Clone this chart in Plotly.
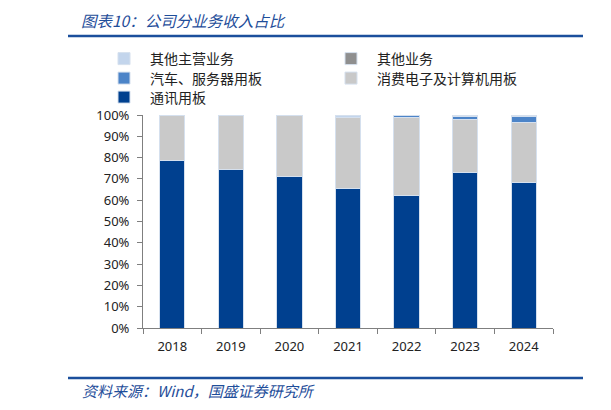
import plotly.graph_objects as go

years = ["2018", "2019", "2020", "2021", "2022", "2023", "2024"]
comm = [78.6, 74.4, 70.9, 65.6, 62.1, 72.9, 68.4]          # 通讯用板
consumer = [21.1, 25.4, 29.0, 33.2, 36.6, 24.8, 28.0]      # 消费电子及计算机用板
auto = [0.0, 0.0, 0.0, 0.2, 0.9, 1.8, 2.8]                 # 汽车、服务器用板
other = [0.0, 0.0, 0.0, 0.0, 0.0, 0.5, 0.8]                # 其他业务
other_main = [0.3, 0.2, 0.1, 1.0, 0.4, 0.0, 0.0]           # 其他主营业务
y_ticks = [0, 10, 20, 30, 40, 50, 60, 70, 80, 90, 100]

# page has an 8px body margin; figure sized to fit the 611x410 window
OFF = 8
W, H = 611 - OFF, 410 - OFF
L, R, T, B = 143, 553, 115, 328   # plot area in page pixels

def px_x(p):
    return (p - L) / (R - L)

def px_y(p):
    return (B - p) / (B - T)

FONT = "Noto Sans CJK SC, Noto Sans, sans-serif"
edge = dict(color="#D5E0EE", width=1)

# (name, values, color, legend id, legend box page x, row centre page y)
series = [
    ("通讯用板", comm, "#00408F", "legend5", 98, 97.5),
    ("消费电子及计算机用板", consumer, "#C9C9C9", "legend4", 325, 78.5),
    ("汽车、服务器用板", auto, "#4C84C8", "legend3", 98, 78.5),
    ("其他业务", other, "#8F8F8F", "legend2", 325, 59),
    ("其他主营业务", other_main, "#C3D5EC", "legend", 98, 59),
]

fig = go.Figure()
legends = {}
for name, vals, color, lg, lx, ly in series:
    fig.add_trace(go.Bar(
        x=years, y=vals, name=name, marker=dict(color=color, line=edge),
        legend=lg,
    ))
    legends[lg] = dict(
        x=px_x(lx), y=px_y(ly), xanchor="left", yanchor="middle",
        orientation="v", font=dict(family=FONT, size=14, color="#222222"),
        bgcolor="rgba(0,0,0,0)", itemwidth=42,
    )

fig.update_layout(
    width=W, height=H, barmode="stack", bargap=0.57,
    margin=dict(l=L - OFF, r=W - (R - OFF), t=T - OFF, b=H - (B - OFF), autoexpand=False),
    paper_bgcolor="white", plot_bgcolor="white",
    showlegend=True,
    **legends,
    xaxis=dict(
        type="category", showline=True, linecolor="#7F7F7F", linewidth=1,
        ticks="outside", tickson="boundaries", ticklen=5, tickcolor="#7F7F7F",
        ticklabelstandoff=6,
        tickfont=dict(family="Noto Sans, sans-serif", size=13, color="#222222"),
        showgrid=False, fixedrange=True,
    ),
    yaxis=dict(
        range=[0, 100], tickvals=y_ticks, ticktext=[f"{v}%" for v in y_ticks],
        showline=True, linecolor="#7F7F7F", linewidth=1,
        ticks="outside", ticklen=5, tickcolor="#7F7F7F",
        ticklabelstandoff=5,
        tickfont=dict(family="Noto Sans, sans-serif", size=13, color="#222222"),
        showgrid=False, zeroline=False, fixedrange=True,
    ),
)

line_color = "#1B4F9C"
for yy in (36, 378):
    fig.add_shape(type="line", xref="paper", yref="paper",
                  x0=px_x(68), x1=px_x(583), y0=px_y(yy), y1=px_y(yy),
                  line=dict(color=line_color, width=2.5))
    fig.add_shape(type="line", xref="paper", yref="paper",
                  x0=px_x(603), x1=px_x(612), y0=px_y(yy), y1=px_y(yy),
                  line=dict(color=line_color, width=2.5))

fig.add_annotation(text="<i>图表10：公司分业务收入占比</i>", xref="paper", yref="paper",
                   x=px_x(80), y=px_y(OFF), xanchor="left", yanchor="top", borderpad=0,
                   showarrow=False, font=dict(family=FONT, size=15.5, color="#1F4E9A"))
fig.add_annotation(text="<i>资料来源：Wind，国盛证券研究所</i>", xref="paper", yref="paper",
                   x=px_x(80), y=px_y(390), xanchor="left", yanchor="middle",
                   showarrow=False, font=dict(family=FONT, size=15, color="#1F4E9A"))

fig.write_html("out.html")
